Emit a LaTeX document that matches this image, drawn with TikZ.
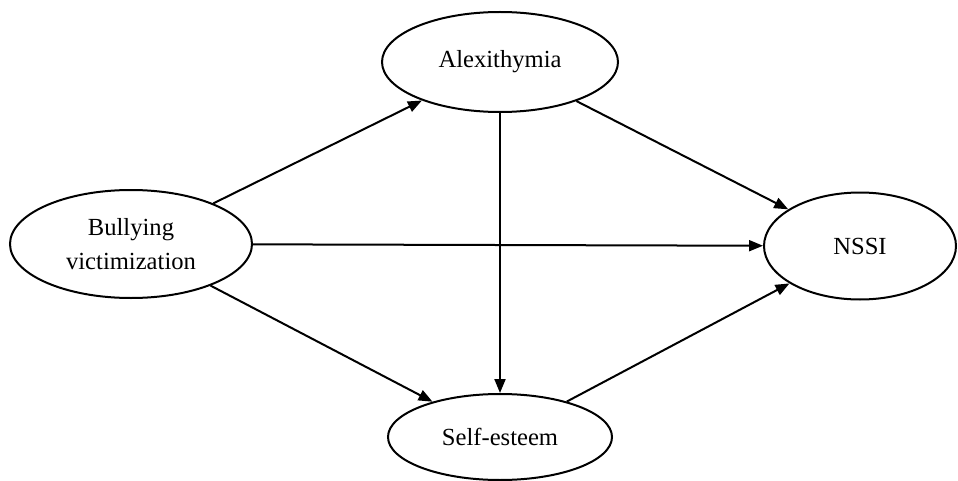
\documentclass[tikz,border=0pt]{standalone}
\usepackage{fontspec}
\setmainfont{Liberation Serif}
\usetikzlibrary{shapes.geometric,arrows.meta}

\begin{document}
\begin{tikzpicture}[x=0.5pt,y=-0.5pt]
              \tikzstyle{every node}+=[inner sep=0pt]
              \tikzstyle{var}=[draw=black, ellipse, line width=1pt, align=center, font=\fontsize{12.3}{17}\selectfont]
              \tikzstyle{path}=[draw=black, line width=1pt, -{Triangle[length=7pt,width=5.5pt]}]
              \useasboundingbox (0,0) rectangle (958,481);
              \draw (131,244) node [var, minimum width=121pt, minimum height=54pt] (bully) {Bullying\\victimization};
              \draw (500,62) node [var, minimum width=118pt, minimum height=50pt] (alex) {Alexithymia};
              \draw (500,437) node [var, minimum width=112pt, minimum height=43pt] (self) {Self-esteem};
              \draw (860,246) node [var, minimum width=96pt, minimum height=53.5pt] (nssi) {NSSI};
              \draw [path] (bully) -- (alex);
              \draw [path] (bully) -- (self);
              \draw [path] (bully) -- (nssi);
              \draw [path] (alex) -- (self);
              \draw [path] (alex) -- (nssi);
              \draw [path] (self) -- (nssi);
            \end{tikzpicture}
\end{document}
